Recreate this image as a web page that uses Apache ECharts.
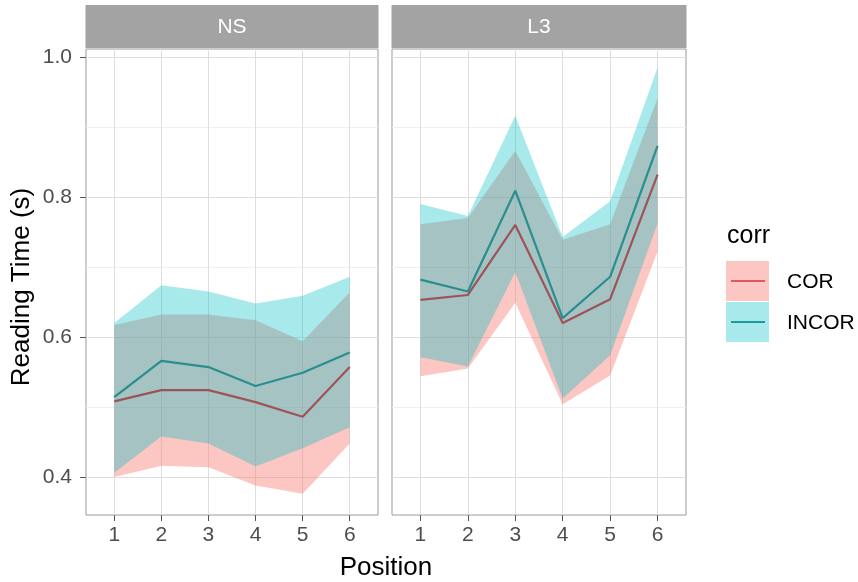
<!DOCTYPE html>
<html>
<head>
<meta charset="utf-8">
<script src="https://cdn.jsdelivr.net/npm/echarts@6/dist/echarts.min.js"></script>
<style>
  html, body { margin: 0; padding: 0; background: #fff; }
  #main { width: 858px; height: 582px; }
</style>
</head>
<body>
<div id="main"></div>
<script>
// x positions
const positions = [1, 2, 3, 4, 5, 6];
const panels = ['NS', 'L3'];
const yTicks = [0.4, 0.6, 0.8, 1.0];
const yMinor = [0.5, 0.7, 0.9];

// NS panel
const nsCorMean = [0.508, 0.524, 0.524, 0.507, 0.486, 0.557];
const nsCorLow = [0.400, 0.416, 0.414, 0.388, 0.376, 0.448];
const nsCorHigh = [0.617, 0.632, 0.632, 0.624, 0.594, 0.664];
const nsIncorMean = [0.514, 0.566, 0.557, 0.530, 0.549, 0.578];
const nsIncorLow = [0.406, 0.458, 0.448, 0.415, 0.441, 0.471];
const nsIncorHigh = [0.620, 0.674, 0.665, 0.648, 0.659, 0.686];

// L3 panel
const l3CorMean = [0.653, 0.660, 0.760, 0.620, 0.654, 0.832];
const l3CorLow = [0.544, 0.555, 0.649, 0.504, 0.545, 0.722];
const l3CorHigh = [0.761, 0.770, 0.866, 0.739, 0.761, 0.941];
const l3IncorMean = [0.682, 0.665, 0.809, 0.627, 0.686, 0.873];
const l3IncorLow = [0.571, 0.558, 0.693, 0.512, 0.574, 0.762];
const l3IncorHigh = [0.790, 0.773, 0.916, 0.743, 0.794, 0.985];

const FONT = 'Liberation Sans, Arial, sans-serif';
const corFill = 'rgba(248,118,109,0.42)';
const incorFill = 'rgba(0,191,196,0.34)';
const corLine = '#9c5459';
const incorLine = '#2a8e8e';

const chart = echarts.init(document.getElementById('main'), null, { renderer: 'canvas' });

const grids = [
  { left: 86, top: 49, width: 292, height: 466 },
  { left: 392, top: 49, width: 294, height: 466 }
];

function pairs(ys) { return positions.map((x, i) => [x, ys[i]]); }

// ribbon: one polygon through all (x, lo) then back through (x, hi)
function ribbon(k, lo, hi, fill) {
  return {
    type: 'custom', xAxisIndex: k, yAxisIndex: k * 2, silent: true, animation: false, clip: true, z: 2,
    data: positions.map((x, i) => [x, lo[i], hi[i]]),
    encode: { x: 0, y: [1, 2] },
    renderItem: function (params, api) {
      if (params.dataIndex !== 0) return;
      const pts = [];
      positions.forEach((x, i) => pts.push(api.coord([x, lo[i]])));
      for (let i = positions.length - 1; i >= 0; i--) pts.push(api.coord([positions[i], hi[i]]));
      return { type: 'polygon', shape: { points: pts }, style: { fill: fill, stroke: null } };
    }
  };
}

const xAxes = [], yAxes = [], series = [];
grids.forEach((g, k) => {
  xAxes.push({
    type: 'value', gridIndex: k, min: 0.4, max: 6.6,
    axisLine: { show: false },
    axisTick: { show: true, length: 6, lineStyle: { color: '#555' }, customValues: positions },
    axisLabel: { show: true, customValues: positions, margin: 10, fontSize: 21, color: '#4d4d4d', fontFamily: FONT },
    splitLine: { show: true, lineStyle: { color: '#dedede', width: 1 } }
  });
  yAxes.push({
    type: 'value', gridIndex: k, min: 0.3457, max: 1.0114,
    axisLine: { show: false },
    axisTick: { show: k === 0, length: 6, lineStyle: { color: '#555' }, customValues: yTicks },
    axisLabel: { show: k === 0, customValues: yTicks, margin: 14, fontSize: 21, color: '#4d4d4d', fontFamily: FONT,
      formatter: v => v.toFixed(1) },
    splitLine: { show: true, lineStyle: { color: '#dedede', width: 1 } }
  });
  // minor horizontal gridlines
  yAxes.push({
    type: 'value', gridIndex: k, min: 0.3457, max: 1.0114, position: 'left',
    axisLine: { show: false },
    axisTick: { show: false, customValues: yMinor },
    axisLabel: { show: false, customValues: yMinor },
    splitLine: { show: true, lineStyle: { color: '#efefef', width: 1 } }
  });
});

const panelData = [
  [nsCorMean, nsCorLow, nsCorHigh, nsIncorMean, nsIncorLow, nsIncorHigh],
  [l3CorMean, l3CorLow, l3CorHigh, l3IncorMean, l3IncorLow, l3IncorHigh]
];

panelData.forEach((d, k) => {
  const [cm, cl, ch, im, il, ih] = d;
  series.push(ribbon(k, cl, ch, corFill));
  series.push(ribbon(k, il, ih, incorFill));
  const base = { type: 'line', xAxisIndex: k, yAxisIndex: k * 2, symbol: 'none', silent: true, animation: false, z: 3 };
  series.push(Object.assign({}, base, { name: 'COR', data: pairs(cm), lineStyle: { color: corLine, width: 2.2 } }));
  series.push(Object.assign({}, base, { name: 'INCOR', data: pairs(im), lineStyle: { color: incorLine, width: 2.2 } }));
});

const graphics = [];
grids.forEach((g, k) => {
  graphics.push({ type: 'rect', shape: { x: g.left - 0.5, y: 5, width: g.width + 1, height: 43 }, style: { fill: '#a3a3a3' }, silent: true });
  graphics.push({ type: 'text', x: g.left + g.width / 2, y: 27, style: { text: panels[k], fill: '#ffffff', font: '21px ' + FONT, textAlign: 'center', textVerticalAlign: 'middle' }, silent: true });
});
// axis titles
graphics.push({ type: 'text', x: 386, y: 568, style: { text: 'Position', fill: '#000', font: '26px ' + FONT, textAlign: 'center', textVerticalAlign: 'middle' } });
graphics.push({ type: 'text', x: 22, y: 287, rotation: Math.PI / 2, style: { text: 'Reading Time (s)', fill: '#000', font: '26px ' + FONT, textAlign: 'center', textVerticalAlign: 'middle' } });
// legend
graphics.push({ type: 'text', x: 727, y: 236, style: { text: 'corr', fill: '#000', font: '25px ' + FONT, textAlign: 'left', textVerticalAlign: 'middle' } });
[['COR', corFill, '#e2575b', 261], ['INCOR', incorFill, '#1a9c9c', 302]].forEach(([lab, fill, line, top]) => {
  graphics.push({ type: 'rect', shape: { x: 726, y: top, width: 43, height: 40 }, style: { fill: fill } });
  graphics.push({ type: 'line', shape: { x1: 731, y1: top + 20, x2: 765, y2: top + 20 }, style: { stroke: line, lineWidth: 2 } });
  graphics.push({ type: 'text', x: 787, y: top + 21, style: { text: lab, fill: '#000', font: '21px ' + FONT, textAlign: 'left', textVerticalAlign: 'middle' } });
});

chart.setOption({
  backgroundColor: '#ffffff',
  animation: false,
  grid: grids.map(g => Object.assign({ show: true, borderColor: '#9a9a9a', borderWidth: 1, backgroundColor: 'transparent', containLabel: false }, g)),
  xAxis: xAxes,
  yAxis: yAxes,
  series: series,
  graphic: graphics
});
</script>
</body>
</html>
